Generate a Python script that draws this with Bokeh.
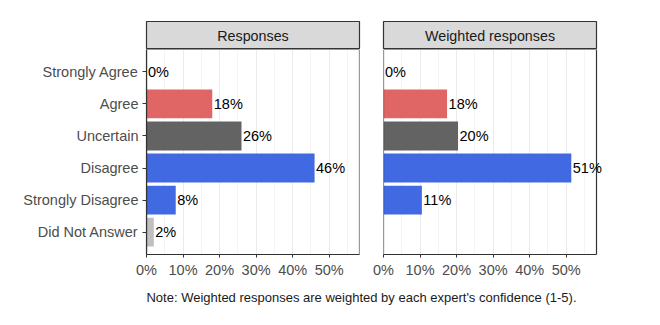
from bokeh.plotting import figure
from bokeh.layouts import column, row
from bokeh.models import (FactorRange, Range1d, FixedTicker, PrintfTickFormatter,
                          Label, LabelSet, ColumnDataSource, BoxAnnotation)
from bokeh.embed import file_html
from bokeh.resources import INLINE
from bokeh.core.properties import value

# ---------------- data ----------------
categories = ["Strongly Agree", "Agree", "Uncertain", "Disagree",
              "Strongly Disagree", "Did Not Answer"]

resp_categories = categories
resp_values = [0, 18, 26, 46, 8, 2]
resp_labels = ["0%", "18%", "26%", "46%", "8%", "2%"]

wresp_categories = categories[:5]
wresp_values = [0, 17.4, 20.4, 51.4, 10.5]
wresp_labels = ["0%", "18%", "20%", "51%", "11%"]

panel_titles = ["Responses", "Weighted responses"]
note_text = "Note: Weighted responses are weighted by each expert's confidence (1-5)."

x_ticks = [0, 10, 20, 30, 40, 50]
x_minor_ticks = [5, 15, 25, 35, 45, 55]
x_max = 58.3

category_colors = {
    "Strongly Agree": "#E06666",
    "Agree": "#E06666",
    "Uncertain": "#636363",
    "Disagree": "#4169E1",
    "Strongly Disagree": "#4169E1",
    "Did Not Answer": "#C0C0C0",
}

FONT = "Liberation Sans"
FS = "14.5px"
FRAME_W = 213
FRAME_H = 205
STRIP_H = 28
BORDER = "#333333"


def strip(title, border_left, border_right):
    s = figure(x_range=Range1d(0, 1), y_range=Range1d(0, 1),
               frame_width=FRAME_W, frame_height=STRIP_H,
               min_border=0, min_border_left=border_left, min_border_right=border_right,
               min_border_top=21, min_border_bottom=0,
               x_axis_type=None, y_axis_type=None,
               background_fill_color="#D9D9D9",
               outline_line_color=BORDER, outline_line_width=1.2,
               toolbar_location=None, output_backend="svg")
    s.add_layout(Label(x=0.5, y=0.5, text=title, text_align="center",
                       text_baseline="middle", text_font=FONT,
                       text_font_size="14.3px", text_color="#1A1A1A"))
    return s


def panel(cats, vals, labels, show_y, border_left, border_right, extra=0):
    # 'extra' widens the frame to the right (beyond x_max) so that value labels
    # may overflow the drawn panel border, as in the original.
    src = ColumnDataSource(dict(cat=cats, val=vals, lab=labels,
                                color=[category_colors[c] for c in cats]))
    fw = FRAME_W + extra
    p = figure(y_range=FactorRange(factors=categories[::-1], range_padding=0.2,
                                   range_padding_units="absolute"),
               x_range=Range1d(0, x_max * fw / FRAME_W),
               frame_width=fw, frame_height=FRAME_H,
               min_border=0, min_border_left=border_left,
               min_border_right=border_right - extra,
               min_border_top=0, min_border_bottom=30,
               toolbar_location=None, output_backend="svg",
               background_fill_color="white",
               outline_line_color=None)
    p.hbar(y="cat", left=0, right="val", height=0.9, fill_color="color",
           line_color=None, source=src)
    p.add_layout(BoxAnnotation(left=0, right=x_max, fill_color=None, fill_alpha=0,
                               line_color=BORDER, line_alpha=1.0, line_width=1.2))
    p.add_layout(LabelSet(x="val", y="cat", text="lab", x_offset=1.5,
                          text_align="left", text_baseline="middle",
                          text_font=value(FONT), text_font_size=value(FS),
                          text_color=value("#000000"), source=src))

    p.ygrid.grid_line_color = None
    p.xgrid.grid_line_color = "#EBEBEB"
    p.xgrid.grid_line_width = 1
    p.xgrid.minor_grid_line_color = "#EFEFEF"
    p.xgrid.minor_grid_line_width = 0.7

    xa = p.xaxis[0]
    xa.ticker = FixedTicker(ticks=x_ticks, minor_ticks=x_minor_ticks)
    xa.formatter = PrintfTickFormatter(format="%d%%")
    xa.bounds = (0, x_max)
    xa.axis_line_color = BORDER
    xa.axis_line_width = 1.2
    xa.major_tick_line_color = BORDER
    xa.major_tick_out = 3
    xa.major_tick_in = 0
    xa.minor_tick_line_color = None
    xa.major_label_standoff = 3
    xa.major_label_text_font = FONT
    xa.major_label_text_font_size = FS
    xa.major_label_text_color = "#4D4D4D"

    ya = p.yaxis[0]
    if show_y:
        ya.axis_line_color = BORDER
        ya.axis_line_width = 1.2
        ya.major_tick_line_color = BORDER
        ya.major_tick_out = 4
        ya.major_tick_in = 0
        ya.major_label_standoff = 4
        ya.major_label_text_font = FONT
        ya.major_label_text_font_size = FS
        ya.major_label_text_color = "#4D4D4D"
    else:
        ya.visible = False
    return p


s1 = strip(panel_titles[0], 146, 12)
s2 = strip(panel_titles[1], 12, 64)
p1 = panel(resp_categories, resp_values, resp_labels, True, 146, 12, extra=0)
p2 = panel(wresp_categories, wresp_values, wresp_labels, False, 12, 64, extra=14)

note = figure(x_range=Range1d(0, 1), y_range=Range1d(0, 1),
              frame_width=660, frame_height=41, min_border=0,
              x_axis_type=None, y_axis_type=None, outline_line_color=None,
              toolbar_location=None, output_backend="svg")
note.add_layout(Label(x=361, y=28, x_units="screen", y_units="screen",
                      text=note_text, text_align="center", text_baseline="middle",
                      text_font=FONT, text_font_size="13px", text_color="#1A1A1A"))

layout = column(row(s1, s2), row(p1, p2), note)

open("out.html", "w").write(file_html(layout, INLINE))
